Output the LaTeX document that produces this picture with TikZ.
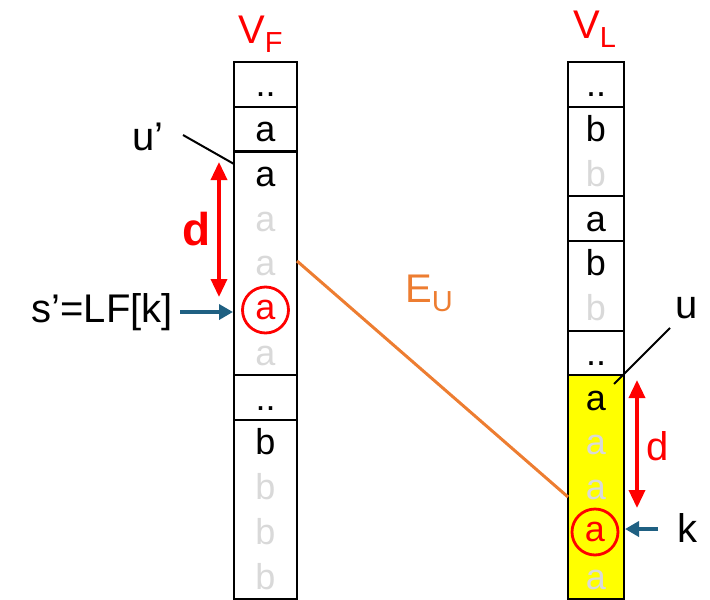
\documentclass[tikz,border=0pt]{standalone}
\usepackage{fontspec}
\setmainfont{Liberation Sans}
\usetikzlibrary{arrows.meta}
\definecolor{hired}{RGB}{255,0,0}
\definecolor{edgeorange}{RGB}{237,125,49}
\definecolor{pointblue}{RGB}{31,96,130}
\definecolor{faint}{RGB}{217,217,217}
\definecolor{hilite}{RGB}{255,255,0}
\newcommand{\lowsub}[1]{\raisebox{-9pt}{\fontsize{29}{30}\selectfont #1}}
\begin{document}
\begin{tikzpicture}[x=1pt,y=-1pt,
  grp/.style={draw=black, line width=2pt, inner sep=0pt, outer sep=0pt},
  lcol/.style={grp, minimum width=63pt},
  rcol/.style={grp, minimum width=56pt},
  letter/.style={inner sep=0pt, anchor=base, font=\fontsize{36}{40}\selectfont},
  ring/.style={circle, draw=hired, line width=2.8pt, minimum size=46pt, inner sep=0pt,
    text=hired, font=\fontsize{36}{40}\selectfont},
  lbl/.style={inner sep=0pt, font=\fontsize{40}{44}\selectfont},
  span/.style={hired, line width=3.5pt, {Triangle[length=18pt,width=16pt]}-{Triangle[length=18pt,width=16pt]}},
  pointer/.style={pointblue, line width=3.5pt, -{Triangle[length=14pt,width=15pt]}},
  lead/.style={black, line width=2pt}]
\useasboundingbox (0,0) rectangle (710,600);

% ---- column V_F ----
\node[lcol, minimum height=44.75pt]  (L0) at (265.5,84.4)  {};
\node[lcol, minimum height=44.75pt]  (L1) at (265.5,129.1) {};
\node[lcol, minimum height=223.75pt] (L2) at (265.5,263.4) {};
\node[lcol, minimum height=44.75pt]  (L3) at (265.5,397.6) {};
\node[lcol, minimum height=179pt]    (L4) at (265.5,509.5) {};

\foreach \r/\t/\c in {0/../black,1/a/black,2/a/black,3/a/faint,4/a/faint,6/a/faint,
                      7/../black,8/b/black,9/b/faint,10/b/faint,11/b/faint}
  \node[letter, text=\c] (la\r) at (265.5,{52+(\r+1)*44.75}) {\t};
\node[ring] (lring) at (265.5,310) {a};

% ---- column V_L ----
\node[rcol, minimum height=44.75pt]  (R0) at (596,84.4)  {};
\node[rcol, minimum height=89.5pt]   (R1) at (596,151.5) {};
\node[rcol, minimum height=44.75pt]  (R2) at (596,218.6) {};
\node[rcol, minimum height=89.5pt]   (R3) at (596,285.75) {};
\node[rcol, minimum height=44.75pt]  (R4) at (596,352.9) {};
\node[rcol, fill=hilite, minimum height=223.75pt] (R5) at (596,487.1) {};

\foreach \r/\t/\c in {0/../black,1/b/black,2/b/faint,3/a/black,4/b/black,5/b/faint,
                      6/../black,7/a/black,8/a/faint,9/a/faint,11/a/faint}
  \node[letter, text=\c] (ra\r) at (596,{52+(\r+1)*44.75}) {\t};
\node[ring] (rring) at (595,532) {a};

% ---- headings ----
\node[lbl, text=hired, anchor=base west] (vf) at (238,43) {V\lowsub{F}};
\node[lbl, text=hired, anchor=base west] (vl) at (573,38) {V\lowsub{L}};

% ---- left annotations ----
\node[lbl, anchor=base west] (uq) at (132,150) {u’};
\coordinate (uqa) at (183,135);
\coordinate (uqb) at (234,164);
\draw[lead] (uqa) -- (uqb);

\coordinate (dlt) at (219,162);
\coordinate (dlb) at (219,297);
\draw[span] (dlt) -- (dlb);
\node[inner sep=0pt, anchor=base, text=hired, font=\fontsize{46}{50}\selectfont\bfseries] (dl) at (197,245) {d};

\node[lbl, anchor=base east] (sq) at (173,322) {s’=LF[k]};
\coordinate (sqa) at (180,312);
\coordinate (sqb) at (233,312);
\draw[pointer] (sqa) -- (sqb);

% ---- edge between the columns ----
\coordinate (ea) at (297,261);
\coordinate (eb) at (568,497);
\draw[edgeorange, line width=3pt] (ea) -- (eb);
\node[lbl, text=edgeorange, anchor=base west] (eu) at (405,302) {E\lowsub{U}};

% ---- right annotations ----
\node[lbl, anchor=base west] (ul) at (675,318) {u};
\coordinate (ula) at (670,328);
\coordinate (ulb) at (614,384);
\draw[lead] (ula) -- (ulb);

\coordinate (drt) at (637,380);
\coordinate (drb) at (637,508);
\draw[span] (drt) -- (drb);
\node[lbl, text=hired, anchor=base] (dr) at (658,460) {d};

\node[lbl, anchor=base west] (kl) at (677,542) {k};
\coordinate (ka) at (658,529);
\coordinate (kb) at (625,529);
\draw[pointer] (ka) -- (kb);
\end{tikzpicture}
\end{document}
